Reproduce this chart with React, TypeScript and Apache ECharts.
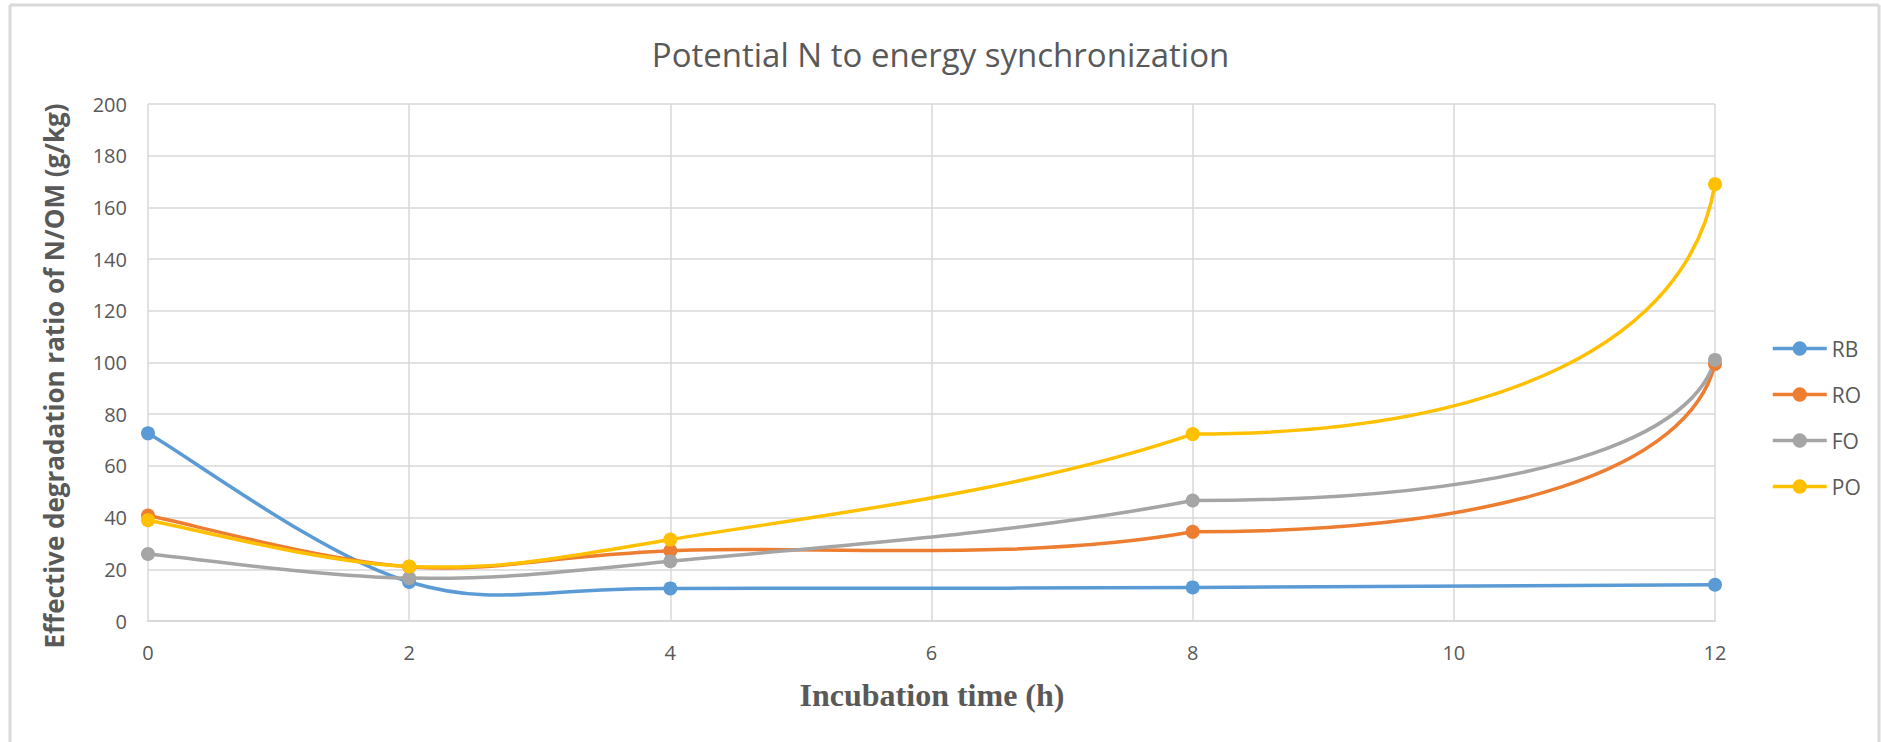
import React, { useEffect, useRef } from "react";
import * as echarts from "echarts";

const hours = [0, 2, 4, 8, 12];
const seriesNames = ["RB", "RO", "FO", "PO"];
const rbValues = [72.6, 15.1, 12.6, 13.0, 14.0];
const roValues = [40.8, 21.0, 27.2, 34.5, 99.4];
const foValues = [25.9, 16.6, 23.1, 46.6, 101.0];
const poValues = [39.0, 21.1, 31.5, 72.3, 169.0];
const seriesColors = ["#5B9BD5", "#ED7D31", "#A5A5A5", "#FFC000"];

const titleText = "Potential N to energy synchronization";
const xTitle = "Incubation time (h)";
const yTitle = "Effective degradation ratio of N/OM (g/kg)";

const SANS = "'Open Sans', 'Noto Sans', sans-serif";
const TEXT_COLOR = "#595959";
const GRID_COLOR = "#D9D9D9";
const LINE_WIDTH = 3.5;

// Cardinal (Excel-like) bezier smoothing computed on pixel points; the final
// segment eases out flat and rises steeply into the last point, as in the source.
function smoothPath(pts: number[][]): string {
  const n = pts.length;
  let d = `M${pts[0][0]},${pts[0][1]}`;
  for (let i = 0; i < n - 1; i++) {
    const p0 = pts[Math.max(i - 1, 0)];
    const p1 = pts[i];
    const p2 = pts[i + 1];
    const p3 = pts[Math.min(i + 2, n - 1)];
    let c1: number[];
    let c2: number[];
    if (i === n - 2 && n > 2) {
      const dx = p2[0] - p1[0];
      const dy = p2[1] - p1[1];
      c1 = [p1[0] + 0.6 * dx, p1[1]];
      c2 = [p2[0] - 0.05 * dx, p2[1] - 0.62 * dy];
    } else {
      c1 = [p1[0] + (p2[0] - p0[0]) / 6, p1[1] + (p2[1] - p0[1]) / 6];
      c2 = [p2[0] - (p3[0] - p1[0]) / 6, p2[1] - (p3[1] - p1[1]) / 6];
    }
    d += ` C${c1[0]},${c1[1]} ${c2[0]},${c2[1]} ${p2[0]},${p2[1]}`;
  }
  return d;
}

export default function App() {
  const ref = useRef<HTMLDivElement>(null);

  useEffect(() => {
    document.body.style.margin = "0";
    if (!ref.current) return;
    const chart = echarts.init(ref.current, null, { renderer: "svg" });
    const allValues = [rbValues, roValues, foValues, poValues];

    const markerSeries = seriesNames.map((name, i) => ({
      name,
      type: "line",
      z: 3,
      data: hours.map((h, j) => [h, allValues[i][j]]),
      symbol: "circle",
      symbolSize: 14,
      showSymbol: true,
      lineStyle: { width: LINE_WIDTH, color: seriesColors[i], opacity: 0 },
      itemStyle: { color: seriesColors[i] },
      emphasis: { disabled: true },
    }));

    const curveSeries = seriesNames.map((name, i) => ({
      name,
      type: "custom",
      z: 2,
      silent: true,
      coordinateSystem: "cartesian2d",
      encode: { x: 0, y: 1 },
      data: hours.map((h, j) => [h, allValues[i][j]]),
      renderItem: (params: any, api: any) => {
        if (params.dataIndex !== 0) return null;
        const pts = hours.map((h, j) => api.coord([h, allValues[i][j]]));
        return {
          type: "path",
          shape: { pathData: smoothPath(pts) },
          style: {
            stroke: seriesColors[i],
            lineWidth: LINE_WIDTH,
            fill: "none",
            lineCap: "round",
            lineJoin: "round",
          },
        };
      },
    }));

    chart.setOption({
      animation: false,
      backgroundColor: "#ffffff",
      title: {
        text: titleText,
        left: "center",
        top: 33,
        textStyle: {
          fontFamily: SANS,
          fontSize: 33,
          fontWeight: "normal",
          color: TEXT_COLOR,
        },
      },
      legend: {
        orient: "vertical",
        left: 1766,
        top: 333,
        itemWidth: 54,
        itemHeight: 18,
        itemGap: 25,
        data: seriesNames,
        lineStyle: { width: LINE_WIDTH, opacity: 1 },
        textStyle: {
          fontFamily: SANS,
          fontSize: 21,
          lineHeight: 20,
          color: TEXT_COLOR,
        },
      },
      grid: {
        left: 148,
        right: 166,
        top: 104,
        bottom: 121,
      },
      xAxis: {
        type: "value",
        min: 0,
        max: 12,
        interval: 2,
        axisLine: { show: true, lineStyle: { color: GRID_COLOR, width: 2 } },
        axisTick: { show: false },
        axisLabel: {
          margin: 21,
          fontFamily: SANS,
          fontSize: 20,
          color: TEXT_COLOR,
        },
        splitLine: { show: true, lineStyle: { color: GRID_COLOR, width: 1.5 } },
      },
      yAxis: {
        type: "value",
        min: 0,
        max: 200,
        interval: 20,
        axisLine: { show: false },
        axisTick: { show: false },
        axisLabel: {
          margin: 21,
          fontFamily: SANS,
          fontSize: 20,
          color: TEXT_COLOR,
        },
        splitLine: { show: true, lineStyle: { color: GRID_COLOR, width: 1.5 } },
      },
      graphic: [
        {
          type: "line",
          shape: { x1: 10, y1: 5, x2: 10, y2: 742 },
          style: { stroke: GRID_COLOR, lineWidth: 3 },
          silent: true,
        },
        {
          type: "line",
          shape: { x1: 10, y1: 5, x2: 1879, y2: 5 },
          style: { stroke: GRID_COLOR, lineWidth: 3 },
          silent: true,
        },
        {
          type: "line",
          shape: { x1: 1879, y1: 5, x2: 1879, y2: 742 },
          style: { stroke: GRID_COLOR, lineWidth: 3 },
          silent: true,
        },
        {
          type: "text",
          x: 54,
          y: 376,
          rotation: Math.PI / 2,
          style: {
            text: yTitle,
            fontFamily: SANS,
            fontSize: 26,
            fontWeight: "bold",
            fill: TEXT_COLOR,
            textAlign: "center",
            textVerticalAlign: "middle",
          },
        },
        {
          type: "text",
          x: 932,
          y: 695,
          style: {
            text: xTitle,
            fontFamily: "'Liberation Serif', 'DejaVu Serif', serif",
            fontSize: 32,
            fontWeight: "bold",
            fill: TEXT_COLOR,
            textAlign: "center",
            textVerticalAlign: "middle",
          },
        },
      ],
      series: [...markerSeries, ...curveSeries],
    });

    return () => {
      chart.dispose();
    };
  }, []);

  return <div ref={ref} style={{ width: 1881, height: 742 }} />;
}
